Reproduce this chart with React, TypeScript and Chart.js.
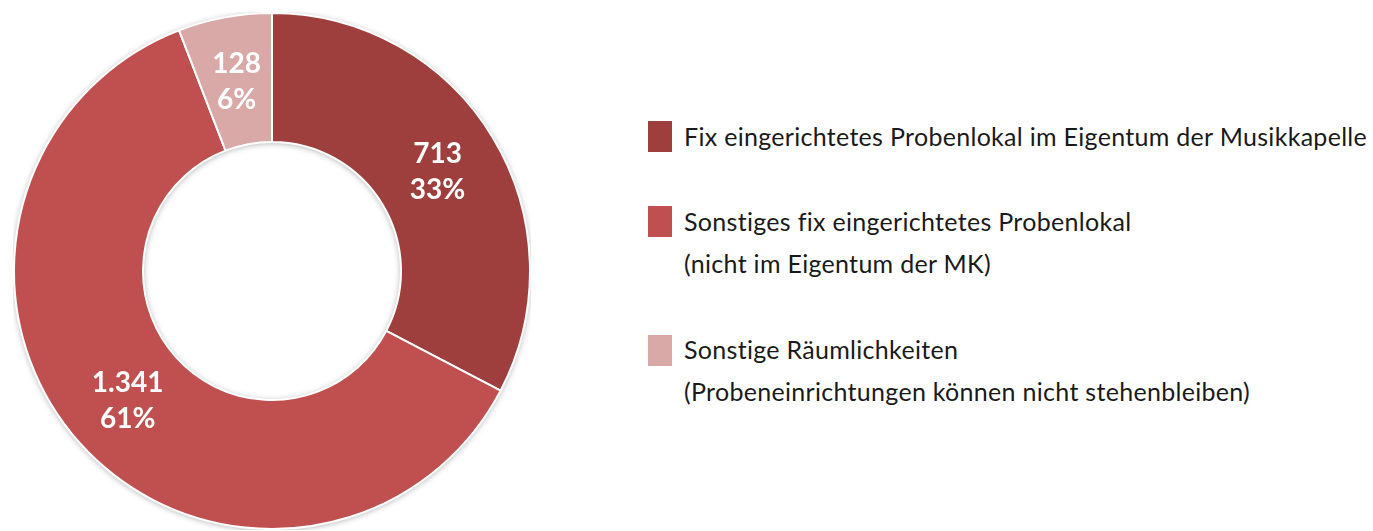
import React, { useEffect, useRef } from "react";
import { Chart, registerables } from "chart.js";

Chart.register(...registerables);

const categories = [
  "Fix eingerichtetes Probenlokal im Eigentum der Musikkapelle",
  "Sonstiges fix eingerichtetes Probenlokal",
  "Sonstige Räumlichkeiten",
];
const categorySubLines = ["", "(nicht im Eigentum der MK)", "(Probeneinrichtungen können nicht stehenbleiben)"];
const values = [713, 1341, 128];
const valueLabels = ["713", "1.341", "128"];
const percentLabels = ["33%", "61%", "6%"];
const colors = ["#9E3F3D", "#C0504F", "#D9A9A8"];

const shadowRing = {
  id: "shadowRing",
  beforeDatasetsDraw(chart: any) {
    const meta = chart.getDatasetMeta(0);
    const arc = meta.data[0];
    if (!arc) return;
    const { x, y, innerRadius, outerRadius } = arc.getProps(["x", "y", "innerRadius", "outerRadius"], true);
    const ctx = chart.ctx;
    ctx.save();
    ctx.shadowColor = "rgba(0,0,0,0.35)";
    ctx.shadowBlur = 6;
    ctx.shadowOffsetY = 1;
    ctx.beginPath();
    ctx.arc(x, y, outerRadius, 0, Math.PI * 2);
    ctx.arc(x, y, innerRadius, Math.PI * 2, 0, true);
    ctx.closePath();
    ctx.fillStyle = "#ffffff";
    ctx.fill("evenodd");
    ctx.restore();
  },
};

const sliceLabels = {
  id: "sliceLabels",
  afterDatasetsDraw(chart: any) {
    const meta = chart.getDatasetMeta(0);
    const ctx = chart.ctx;
    ctx.save();
    ctx.fillStyle = "#ffffff";
    ctx.font = "bold 28px Lato";
    ctx.textAlign = "center";
    ctx.textBaseline = "middle";
    meta.data.forEach((arc: any, i: number) => {
      const p = arc.tooltipPosition(true);
      ctx.fillText(valueLabels[i], p.x, p.y - 17);
      ctx.fillText(percentLabels[i], p.x, p.y + 19);
    });
    ctx.restore();
  },
};

export default function App() {
  const ref = useRef<HTMLCanvasElement>(null);
  useEffect(() => {
    if (!ref.current) return;
    const chart = new Chart(ref.current, {
      type: "doughnut",
      data: {
        labels: categories,
        datasets: [
          {
            data: values,
            backgroundColor: colors,
            borderColor: "#ffffff",
            borderWidth: 2,
            hoverOffset: 0,
          },
        ],
      },
      options: {
        animation: false,
        responsive: true,
        maintainAspectRatio: false,
        cutout: "50%",
        layout: { padding: 0 },
        plugins: { legend: { display: false }, tooltip: { enabled: false } },
      },
      plugins: [shadowRing, sliceLabels],
    });
    return () => chart.destroy();
  }, []);

  const rows = [
    { sq: 121, lines: [136], idx: 0 },
    { sq: 206, lines: [221, 263], idx: 1 },
    { sq: 335, lines: [349, 391], idx: 2 },
  ];

  return (
    <div style={{ position: "fixed", left: 0, top: 0, width: 1373, height: 531, background: "#fff", overflow: "hidden" }}>
      <div style={{ position: "absolute", left: 13, top: 12, width: 518, height: 518 }}>
        <canvas ref={ref} />
      </div>
      {rows.map((r) => (
        <React.Fragment key={r.idx}>
          <div style={{ position: "absolute", left: 648, top: r.sq, width: 24, height: 31, background: colors[r.idx] }} />
          {r.lines.map((c, j) => (
            <div
              key={j}
              style={{
                position: "absolute",
                left: 684,
                top: c - 15,
                height: 30,
                lineHeight: "30px",
                fontFamily: "Lato",
                fontSize: 25,
                letterSpacing: "0.3px",
                color: "#1a1a1a",
                whiteSpace: "nowrap",
              }}
            >
              {j === 0 ? categories[r.idx] : categorySubLines[r.idx]}
            </div>
          ))}
        </React.Fragment>
      ))}
    </div>
  );
}
